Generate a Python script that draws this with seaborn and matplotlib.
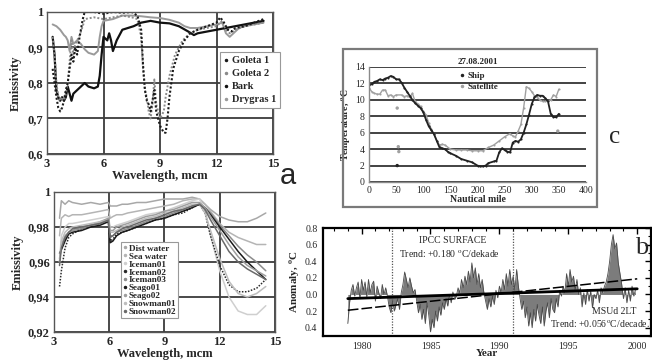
import numpy as np
import pandas as pd
import matplotlib
matplotlib.use("Agg")
import matplotlib.pyplot as plt
import seaborn as sns
from matplotlib.lines import Line2D
from matplotlib.patches import Rectangle
from matplotlib.ticker import MultipleLocator

# ---------------- Panel a (top): emissivity of soils / vegetation ----------------
goleta1_wl = [3.3, 3.4, 3.5, 3.6, 3.7, 3.8, 3.9, 4.0, 4.1, 4.2, 4.3, 4.4, 4.5, 4.6, 4.7, 4.8, 4.9, 5.0, 5.5,
              6.0, 6.5, 7.0, 7.5, 7.8, 8.0, 8.1, 8.2, 8.3, 8.4, 8.5, 8.6, 8.7, 8.8, 8.9, 9.0, 9.1, 9.2, 9.3,
              9.4, 9.5, 9.7, 10.0, 10.3, 10.6, 11.0, 11.5, 12.0, 12.2, 12.4, 12.6, 12.8, 13.0, 13.5, 14.0, 14.5]
goleta1_em = [0.84, 0.80, 0.76, 0.73, 0.72, 0.73, 0.75, 0.78, 0.80, 0.84, 0.88, 0.86, 0.90, 0.88, 0.92, 0.95,
              0.98, 1.0, 1.0, 0.995, 1.0, 0.998, 1.0, 0.99, 0.95, 0.85, 0.78, 0.75, 0.74, 0.72, 0.75, 0.78,
              0.72, 0.70, 0.68, 0.67, 0.66, 0.66, 0.70, 0.76, 0.84, 0.89, 0.92, 0.94, 0.95, 0.96, 0.97, 0.985,
              0.97, 0.95, 0.945, 0.955, 0.96, 0.97, 0.98]
goleta2_wl = [3.3, 3.4, 3.5, 3.6, 3.7, 3.8, 3.9, 4.0, 4.1, 4.2, 4.3, 4.4, 4.5, 4.7, 4.9, 5.0, 5.5, 6.0, 6.5,
              7.0, 7.5, 7.8, 8.0, 8.1, 8.2, 8.3, 8.4, 8.5, 8.6, 8.7, 8.8, 8.9, 9.0, 9.1, 9.2, 9.3, 9.5, 9.8,
              10.2, 10.6, 11.0, 11.5, 12.0, 12.3, 12.5, 12.7, 13.0, 13.5, 14.0, 14.5]
goleta2_em = [0.93, 0.88, 0.80, 0.76, 0.75, 0.76, 0.75, 0.77, 0.80, 0.86, 0.92, 0.88, 0.91, 0.93, 0.96, 0.98,
              0.985, 0.98, 0.985, 0.99, 0.985, 0.98, 0.93, 0.84, 0.78, 0.76, 0.72, 0.70, 0.74, 0.81, 0.74,
              0.72, 0.70, 0.71, 0.72, 0.76, 0.82, 0.88, 0.92, 0.94, 0.95, 0.955, 0.96, 0.975, 0.95, 0.94,
              0.95, 0.96, 0.965, 0.97]
bark_wl = [3.3, 3.4, 3.5, 3.6, 3.7, 3.8, 3.9, 4.0, 4.1, 4.2, 4.3, 4.4, 4.6, 4.8, 5.0, 5.2, 5.5, 5.7, 5.8,
           5.9, 6.0, 6.2, 6.3, 6.4, 6.5, 6.7, 7.0, 7.3, 7.6, 8.0, 8.5, 9.0, 9.5, 10.0, 10.5, 10.8, 11.0,
           11.5, 12.0, 12.5, 13.0, 13.5, 14.0, 14.5]
bark_em = [0.93, 0.88, 0.78, 0.76, 0.75, 0.76, 0.75, 0.76, 0.79, 0.77, 0.75, 0.77, 0.78, 0.79, 0.80, 0.79,
           0.785, 0.79, 0.82, 0.88, 0.93, 0.92, 0.94, 0.92, 0.89, 0.92, 0.95, 0.955, 0.96, 0.97, 0.975,
           0.97, 0.968, 0.96, 0.945, 0.935, 0.94, 0.945, 0.95, 0.955, 0.96, 0.965, 0.97, 0.975]
drygras_wl = [3.3, 3.5, 3.7, 3.9, 4.0, 4.1, 4.2, 4.3, 4.4, 4.6, 4.8, 5.0, 5.2, 5.5, 5.7, 5.8, 5.9, 6.0,
              6.5, 7.0, 7.5, 8.0, 8.5, 9.0, 9.5, 10.0, 10.3, 10.6, 11.0, 11.5, 12.0, 12.3, 12.5, 12.7,
              12.9, 13.2, 13.5, 14.0, 14.5]
drygras_em = [0.965, 0.96, 0.95, 0.935, 0.93, 0.92, 0.89, 0.93, 0.91, 0.92, 0.91, 0.895, 0.885, 0.88,
              0.89, 0.93, 0.96, 0.975, 0.98, 0.99, 0.99, 0.988, 0.985, 0.983, 0.978, 0.97, 0.96, 0.955,
              0.955, 0.96, 0.965, 0.97, 0.94, 0.93, 0.94, 0.955, 0.96, 0.965, 0.97]
top_names = ["Goleta 1", "Goleta 2", "Bark", "Drygras 1"]
top_xticks = [3, 6, 9, 12, 15]
top_yticks = [0.6, 0.7, 0.8, 0.9, 1.0]
top_ylabels = ["0,6", "0,7", "0,8", "0,9", "1"]

# ---------------- Panel a (bottom): water / ice / snow ----------------
water_wl = [3.3, 3.4, 3.6, 3.8, 4.0, 4.5, 5.0, 5.5, 5.95, 6.05, 6.2, 6.4, 6.7, 7.0, 7.5, 8.0, 8.5, 9.0,
            9.5, 10.0, 10.5, 10.9, 11.2, 11.5, 12.0, 12.5, 13.0, 13.5, 14.0, 14.5]
dist_water = [0.985, 0.995, 0.993, 0.995, 0.994, 0.993, 0.994, 0.993, 0.994, 0.992, 0.992, 0.992, 0.993,
              0.993, 0.994, 0.994, 0.995, 0.996, 0.996, 0.996, 0.997, 0.996, 0.993, 0.99, 0.986, 0.984,
              0.983, 0.983, 0.985, 0.988]
sea_water = [0.975, 0.985, 0.987, 0.986, 0.987, 0.987, 0.988, 0.989, 0.990, 0.985, 0.986, 0.987, 0.987,
             0.988, 0.989, 0.990, 0.991, 0.992, 0.993, 0.995, 0.996, 0.996, 0.993, 0.989, 0.982, 0.977,
             0.974, 0.972, 0.970, 0.970]
iceman01 = [0.960, 0.975, 0.980, 0.982, 0.982, 0.983, 0.984, 0.985, 0.986, 0.980, 0.980, 0.981, 0.982,
            0.983, 0.985, 0.987, 0.988, 0.989, 0.991, 0.993, 0.995, 0.996, 0.990, 0.975, 0.955, 0.940,
            0.932, 0.930, 0.930, 0.935]
iceman02 = [0.946, 0.955, 0.968, 0.974, 0.976, 0.979, 0.981, 0.982, 0.984, 0.972, 0.973, 0.976, 0.977,
            0.978, 0.980, 0.982, 0.984, 0.985, 0.987, 0.988, 0.991, 0.993, 0.988, 0.975, 0.958, 0.947,
            0.943, 0.943, 0.945, 0.950]
iceman03 = [0.962, 0.968, 0.973, 0.977, 0.978, 0.979, 0.981, 0.982, 0.983, 0.975, 0.975, 0.977, 0.978,
            0.979, 0.981, 0.983, 0.985, 0.986, 0.988, 0.990, 0.992, 0.993, 0.991, 0.988, 0.981, 0.975,
            0.969, 0.964, 0.960, 0.955]
seago01 = [0.965, 0.967, 0.972, 0.976, 0.977, 0.978, 0.980, 0.981, 0.983, 0.971, 0.972, 0.975, 0.977,
           0.978, 0.980, 0.982, 0.984, 0.985, 0.987, 0.989, 0.991, 0.993, 0.991, 0.987, 0.980, 0.973,
           0.966, 0.960, 0.955, 0.950]
seago02 = [0.960, 0.970, 0.975, 0.977, 0.978, 0.980, 0.981, 0.983, 0.985, 0.978, 0.978, 0.980, 0.981,
           0.982, 0.984, 0.986, 0.987, 0.989, 0.990, 0.992, 0.994, 0.994, 0.991, 0.986, 0.978, 0.970,
           0.963, 0.958, 0.955, 0.952]
snowman01 = [0.960, 0.972, 0.977, 0.979, 0.980, 0.981, 0.982, 0.983, 0.984, 0.977, 0.977, 0.978, 0.980,
             0.981, 0.983, 0.985, 0.986, 0.988, 0.989, 0.991, 0.993, 0.993, 0.988, 0.978, 0.962, 0.949,
             0.942, 0.940, 0.942, 0.946]
snowman02 = [0.958, 0.968, 0.974, 0.977, 0.979, 0.980, 0.981, 0.982, 0.984, 0.974, 0.975, 0.977, 0.979,
             0.980, 0.982, 0.984, 0.985, 0.987, 0.989, 0.990, 0.992, 0.993, 0.990, 0.984, 0.975, 0.966,
             0.960, 0.956, 0.953, 0.950]
bot_names = ["Dist water", "Sea water", "Iceman01", "Iceman02", "Iceman03", "Seago01", "Seago02",
             "Snowman01", "Snowman02"]
bot_yticks = [0.92, 0.94, 0.96, 0.98, 1.0]
bot_ylabels = ["0,92", "0,94", "0,96", "0,98", "1"]

# ---------------- Panel c: ship vs satellite SST ----------------
ship_nm = [0, 5, 10, 15, 20, 25, 30, 35, 40, 45, 50, 55, 60, 65, 70, 75, 80, 85, 90, 95, 100, 105, 110,
           115, 120, 125, 130, 135, 140, 145, 150, 160, 170, 180, 190, 200, 205, 210, 215, 220, 230, 235,
           240, 245, 250, 255, 260, 265, 270, 275, 280, 285, 290, 295, 300, 305, 310, 315, 320, 325, 330,
           335, 340, 345, 350]
ship_t = [11.8, 11.9, 12.2, 12.3, 12.5, 12.4, 12.6, 12.7, 12.9, 12.8, 12.5, 12.5, 12.1, 11.5, 11.0, 10.5,
          10.0, 9.6, 9.3, 9.0, 8.5, 7.6, 6.8, 6.3, 5.8, 5.0, 4.2, 4.1, 4.0, 3.7, 3.5, 3.2, 2.8, 2.6, 2.4,
          2.0, 1.9, 1.9, 2.0, 2.3, 2.5, 2.6, 3.6, 4.1, 3.9, 3.7, 3.6, 4.8, 5.0, 4.9, 5.2, 6.0, 7.0, 8.2,
          9.5, 10.3, 10.6, 10.5, 10.5, 10.2, 9.8, 8.3, 7.9, 7.9, 8.3]
sat_nm = [0, 5, 10, 15, 20, 25, 30, 35, 40, 45, 50, 60, 65, 70, 75, 80, 85, 90, 95, 100, 105, 110, 115,
          120, 125, 130, 135, 140, 150, 160, 170, 180, 190, 200, 210, 220, 230, 240, 250, 260, 265, 270,
          275, 280, 285, 290, 295, 300, 305, 310, 315, 320, 325, 330, 335, 340, 345, 350]
sat_t = [11.5, 11.0, 10.8, 10.7, 10.7, 11.2, 11.2, 10.5, 10.6, 10.4, 10.6, 10.6, 10.4, 10.5, 10.3, 10.8,
         9.8, 9.5, 9.2, 8.6, 8.2, 7.2, 6.4, 5.8, 5.0, 4.5, 4.6, 4.5, 4.0, 3.9, 3.9, 3.9, 3.8, 3.8, 3.8,
         4.2, 4.5, 5.0, 5.5, 5.9, 5.6, 5.5, 6.2, 7.0, 9.0, 11.6, 11.4, 11.0, 10.5, 10.3, 10.0, 9.8, 9.8,
         9.9, 10.0, 10.6, 10.4, 11.3]
ship_out_nm = [52]
ship_out_t = [2.0]
sat_out_nm = [52, 54, 55, 348]
sat_out_t = [9.0, 4.3, 3.7, 6.2]
c_title = "27.08.2001"
c_xticks = [0, 50, 100, 150, 200, 250, 300, 350, 400]
c_yticks = [0, 2, 4, 6, 8, 10, 12, 14]

# ---------------- Panel b: MSU 2LT anomaly (8 readings per year, 1979-1999) ----------------
msu_year = list(np.round(np.arange(1979.0, 2000.0, 0.125), 3))
msu_anom = [
    -0.35, -0.10, 0.05, 0.12, -0.02, 0.08, 0.15, -0.05,     # 1979
    0.18, 0.05, 0.15, -0.03, 0.18, 0.02, 0.12, 0.16,        # 1980
    -0.08, 0.10, 0.02, -0.05, 0.12, 0.00, 0.08, -0.02,      # 1981
    -0.15, -0.22, -0.08, -0.20, -0.12, -0.05, -0.18, 0.02,  # 1982
    0.12, 0.27, 0.18, 0.08, 0.20, 0.10, 0.02, 0.06,         # 1983
    -0.08, -0.22, -0.12, -0.30, -0.18, -0.35, -0.10, -0.25, # 1984
    -0.45, -0.30, -0.40, -0.20, -0.32, -0.15, -0.25, -0.10, # 1985
    -0.18, -0.05, -0.14, 0.00, -0.10, 0.03, -0.06, -0.02,   # 1986
    0.08, 0.02, 0.18, 0.08, 0.22, 0.12, 0.28, 0.15,         # 1987
    0.38, 0.20, 0.32, 0.12, 0.25, 0.08, 0.18, 0.02,         # 1988
    -0.08, -0.18, -0.05, -0.15, -0.02, -0.12, 0.05, -0.04,  # 1989
    0.10, 0.02, 0.18, 0.06, 0.25, 0.10, 0.30, 0.12,         # 1990
    0.22, 0.05, 0.30, 0.10, -0.05, -0.18, -0.08, -0.28,     # 1991
    -0.15, -0.38, -0.22, -0.40, -0.18, -0.32, -0.12, -0.25, # 1992
    -0.35, -0.15, -0.38, -0.20, -0.10, -0.28, -0.05, -0.18, # 1993
    -0.22, -0.05, -0.15, 0.05, -0.02, 0.10, 0.02, 0.25,     # 1994
    0.10, 0.30, 0.15, 0.22, 0.05, 0.18, 0.00, 0.08,         # 1995
    -0.15, 0.02, -0.12, 0.06, -0.08, 0.04, -0.16, 0.00,     # 1996
    -0.05, 0.05, -0.10, 0.08, 0.02, 0.10, 0.15, 0.25,       # 1997
    0.40, 0.60, 0.72, 0.55, 0.62, 0.38, 0.25, 0.12,         # 1998
    -0.05, 0.08, -0.10, 0.05, -0.08, 0.10, -0.02, 0.06,     # 1999
]
trend_years = [1979.0, 2000.0]
msu_trend = [-0.05, 0.068]
sfc_trend = [-0.19, 0.188]
event_years = [1982.2, 1991.0]
b_xticks = [1980, 1985, 1990, 1995, 2000]
b_yticks = [-0.4, -0.2, 0.0, 0.2, 0.4, 0.6, 0.8]
b_ylabels = ["0.4", "0.2", "0.0", "0.2", "0.4", "0.6", "0.8"]

# ================= drawing =================
sns.set_theme(style="white")
plt.rcParams['font.family'] = ['Liberation Serif', 'DejaVu Serif']
plt.rcParams['mathtext.fontset'] = 'stix'
plt.rcParams['axes.linewidth'] = 1.0

W, H = 652, 361
fig = plt.figure(figsize=(W / 100, H / 100), dpi=100)


def box(l, t, r, b):
    return [l / W, 1 - b / H, (r - l) / W, (b - t) / H]


grid_c = '#3c3c3c'

# ---- panel a top ----
ax1 = fig.add_axes(box(47, 12, 273, 154))
sns.lineplot(x=drygras_wl, y=drygras_em, ax=ax1, color='#9a9a9a', lw=1.4, estimator=None, sort=False)
sns.lineplot(x=bark_wl, y=bark_em, ax=ax1, color='#111111', lw=1.6, estimator=None, sort=False)
sns.lineplot(x=goleta2_wl, y=goleta2_em, ax=ax1, color='#8a8a8a', lw=1.4, estimator=None, sort=False,
             linestyle=(0, (1, 1)))
sns.lineplot(x=goleta1_wl, y=goleta1_em, ax=ax1, color='#1a1a1a', lw=1.5, estimator=None, sort=False,
             linestyle=(0, (1, 1)))
ax1.set_xlim(3, 15)
ax1.set_ylim(0.6, 1.0)
ax1.set_xticks(top_xticks, [str(v) for v in top_xticks], fontweight='bold', fontsize=9)
ax1.set_yticks(top_yticks, top_ylabels, fontweight='bold', fontsize=9)
ax1.grid(True, color=grid_c, lw=1.3)
ax1.set_axisbelow(True)
for s in ax1.spines.values():
    s.set_color('#555555')
ax1.tick_params(length=0, pad=3)
ax1.set_xlabel("Wavelength, mcm", fontweight='bold', fontsize=9, labelpad=0)
ax1.set_ylabel("Emissivity", fontweight='bold', fontsize=9, labelpad=4)
top_colors = ['#1a1a1a', '#8a8a8a', '#111111', '#9a9a9a']
h1 = [Line2D([], [], ls='none', marker='.', ms=3, color=c) for c in top_colors]
leg1 = ax1.legend(h1, top_names, loc='upper left', bbox_to_anchor=(0.765, 0.715), frameon=True,
                  fancybox=False, edgecolor='#999999', framealpha=1,
                  prop={'weight': 'bold', 'size': 7.5, 'family': 'Liberation Serif'},
                  handlelength=0.5, handletextpad=0.3, labelspacing=0.35, borderpad=0.35,
                  borderaxespad=0)
leg1.get_frame().set_linewidth(0.8)

# ---- panel a bottom ----
ax2 = fig.add_axes(box(54, 192, 275, 332))
bot_series = [dist_water, sea_water, iceman01, iceman02, iceman03, seago01, seago02, snowman01, snowman02]
bot_colors = ['#a8a8a8', '#b5b5b5', '#cfcfcf', '#2a2a2a', '#8c8c8c', '#1a1a1a', '#9e9e9e', '#bdbdbd',
              '#6a6a6a']
bot_styles = ['-', '-', '-', (0, (1, 1)), '-', '-', '-', '-', '-']
for vals, col, st in zip(bot_series, bot_colors, bot_styles):
    sns.lineplot(x=water_wl, y=vals, ax=ax2, color=col, lw=1.1, estimator=None, sort=False, linestyle=st)
ax2.set_xlim(3, 15)
ax2.set_ylim(0.92, 1.0)
ax2.set_xticks(top_xticks, [str(v) for v in top_xticks], fontweight='bold', fontsize=9)
ax2.set_yticks(bot_yticks, bot_ylabels, fontweight='bold', fontsize=9)
ax2.grid(True, color=grid_c, lw=1.3)
ax2.set_axisbelow(True)
for s in ax2.spines.values():
    s.set_color('#555555')
ax2.tick_params(length=0, pad=3)
ax2.set_xlabel("Wavelength, mcm", fontweight='bold', fontsize=9, labelpad=0)
ax2.set_ylabel("Emissivity", fontweight='bold', fontsize=9, labelpad=3)
h2 = [Line2D([], [], ls='none', marker='.', ms=3, color=c) for c in bot_colors]
leg2 = ax2.legend(h2, bot_names, loc='upper left', bbox_to_anchor=(0.305, 0.64), frameon=True,
                  fancybox=False, edgecolor='#999999', framealpha=1,
                  prop={'weight': 'bold', 'size': 6.6, 'family': 'Liberation Serif'},
                  handlelength=0.4, handletextpad=0.2, labelspacing=-0.05, borderpad=0.2,
                  borderaxespad=0)
leg2.get_frame().set_linewidth(0.8)

fig.text(288 / W, 1 - 184 / H, "a", fontsize=21, family='Liberation Sans', ha='center', va='baseline')

# ---- panel c ----
fig.patches.append(Rectangle((343 / W, 1 - 207 / H), (597 - 343) / W, (207 - 49) / H,
                             transform=fig.transFigure, fill=False, edgecolor='#7a7a7a', lw=1.6))
ax3 = fig.add_axes(box(369, 67, 586, 182))
sns.lineplot(x=sat_nm, y=sat_t, ax=ax3, color='#a0a0a0', lw=1.0, marker='.', ms=3, mec='none',
             estimator=None, sort=False, legend=False)
sns.lineplot(x=ship_nm, y=ship_t, ax=ax3, color='#222222', lw=1.3, marker='.', ms=3, mec='none',
             estimator=None, sort=False, legend=False)
sns.scatterplot(x=sat_out_nm, y=sat_out_t, ax=ax3, color='#a0a0a0', s=6, edgecolor='none', legend=False)
sns.scatterplot(x=ship_out_nm, y=ship_out_t, ax=ax3, color='#222222', s=6, edgecolor='none', legend=False)
ax3.set_xlim(0, 400)
ax3.set_ylim(0, 14)
ax3.set_xticks(c_xticks, [str(v) for v in c_xticks], fontsize=7)
ax3.set_yticks(c_yticks, [str(v) for v in c_yticks], fontsize=7)
ax3.yaxis.grid(True, color='#222222', lw=1.2)
ax3.set_axisbelow(True)
for s in ax3.spines.values():
    s.set_color('#8a8a8a')
ax3.spines['top'].set_visible(False)
ax3.spines['right'].set_visible(False)
ax3.tick_params(length=2, color='#8a8a8a', pad=1)
ax3.set_title(c_title, fontsize=6.5, fontweight='bold', pad=2)
ax3.set_xlabel("Nautical mile", fontsize=7, fontweight='bold', labelpad=0)
ax3.set_ylabel(r"Temperature, $^{\mathbf{o}}$C", fontsize=7, fontweight='bold', labelpad=1.5)
h3 = [Line2D([], [], ls='none', marker='.', ms=3, color='#222222'),
      Line2D([], [], ls='none', marker='.', ms=3, color='#a0a0a0')]
ax3.legend(h3, ["Ship", "Satellite"], loc='upper left', bbox_to_anchor=(0.42, 0.96), frameon=False,
           prop={'weight': 'bold', 'size': 6.5, 'family': 'Liberation Serif'},
           handlelength=0.5, handletextpad=0.3, labelspacing=0.3, borderpad=0, borderaxespad=0)
fig.text(615 / W, 1 - 137 / H, "c", fontsize=18, ha='center', va='center')

# ---- panel b ----
ax4 = fig.add_axes(box(323, 228, 651, 336))
ax4.fill_between(msu_year, 0, msu_anom, color='#7c7c7c', lw=0)
sns.lineplot(x=msu_year, y=msu_anom, ax=ax4, color='#4a4a4a', lw=0.6, estimator=None, sort=False)
for ey in event_years:
    ax4.axvline(ey, color='#555555', lw=0.9, ls=(0, (1, 1.2)))
sns.lineplot(x=trend_years, y=sfc_trend, ax=ax4, color='black', lw=1.1, linestyle=(0, (7, 2)),
             estimator=None, sort=False)
sns.lineplot(x=trend_years, y=msu_trend, ax=ax4, color='black', lw=2.0, estimator=None, sort=False)
ax4.set_xlim(1977.2, 2001.0)
ax4.set_ylim(-0.5, 0.8)
ax4.set_xticks(b_xticks, [str(v) for v in b_xticks], fontsize=7)
ax4.set_yticks(b_yticks, b_ylabels, fontsize=7)
ax4.xaxis.set_minor_locator(MultipleLocator(1))
ax4.yaxis.set_minor_locator(MultipleLocator(0.1))
ax4.tick_params(which='both', direction='in', top=True, right=True, color='black')
ax4.tick_params(which='major', length=4, width=1, pad=4)
ax4.tick_params(which='minor', length=2.5, width=0.8)
for s in ax4.spines.values():
    s.set_color('black')
    s.set_linewidth(1.6)
ax4.set_xlabel("Year", fontsize=8, fontweight='bold', labelpad=-1)
ax4.set_ylabel(r"Anomaly, $^{\mathbf{o}}$C", fontsize=8, fontweight='bold', labelpad=2)
ax4.text(1986.6, 0.65, "IPCC SURFACE", fontsize=7, ha='center', va='center')
ax4.text(1986.4, 0.49, r"Trend: +0.180 $^{\rm o}$C/dekade", fontsize=7, ha='center', va='center')
ax4.text(1998.3, -0.21, "MSUd 2LT", fontsize=7, ha='center', va='center')
ax4.text(2000.95, -0.355, r"Trend: +0.056$^{\rm o}$C/decade.", fontsize=7, ha='right', va='center')
ax4.text(2000.3, 0.49, "b", fontsize=19, ha='center', va='baseline')

fig.savefig("out.png", dpi=100)
